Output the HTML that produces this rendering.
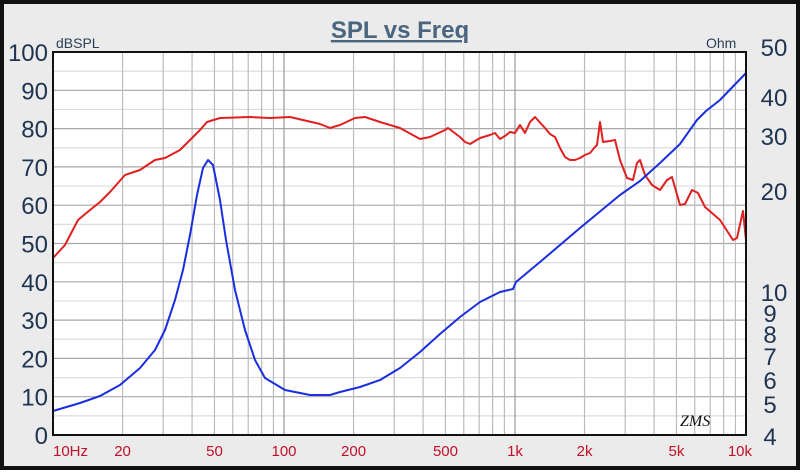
<!DOCTYPE html><html><head><style>body{margin:0;width:800px;height:470px;overflow:hidden}</style></head><body>
<svg width="800" height="470" xmlns="http://www.w3.org/2000/svg" font-family="Liberation Sans, sans-serif">
<rect x="0" y="0" width="800" height="470" fill="#111"/>
<rect x="4" y="4" width="792" height="462" fill="#ebebeb"/>
<text x="400" y="38" text-anchor="middle" font-size="24" font-weight="bold" fill="#4a6580" text-decoration="underline">SPL vs Freq</text>
<rect x="53" y="52" width="693" height="383" fill="#fff"/>
<g stroke-width="1.2" id="g"></g>
<g id="lab"></g>
<polyline fill="none" stroke="#e02020" stroke-width="2" stroke-linejoin="round" points="53,258 65,245 78,220 90,210 100,202 110,192 125,175 140,170 155,160 165,158 180,150 190,140 200,130 207,122 220,118 250,117 270,118 290,117 320,124 330,128 340,125 355,118 365,117 380,122 400,128 420,139 430,137 445,130 448,128 460,137 465,142 470,144 480,138 490,135 495,133 500,139 505,136 510,132 515,133 520,125 525,133 530,122 535,117 545,128 550,134 555,137 560,148 565,157 570,160 575,160 580,158 585,155 590,153 595,147 597,145 600,122 603,142 610,141 615,140 620,160 627,178 633,180 637,163 640,160 645,175 652,185 660,190 667,180 672,177 680,205 685,204 692,190 698,193 705,207 720,220 733,240 737,238 743,211 746,240"/>
<polyline fill="none" stroke="#1a2ee0" stroke-width="2" stroke-linejoin="round" points="53,411 80,403 100,396 120,385 140,368 155,350 165,330 175,300 183,270 190,235 197,195 203,168 208,160 213,165 220,200 226,240 235,290 245,330 255,360 265,378 285,390 310,395 330,395 340,392 360,387 380,380 400,368 420,352 440,334 460,317 480,302 500,292 513,289 516,282 540,262 580,228 620,195 640,181 660,163 680,144 697,120 706,111 720,100 746,73"/>
<rect x="53" y="52" width="693" height="383" fill="none" stroke="#111" stroke-width="2"/>
<text x="680" y="426" font-size="16" font-style="italic" font-family="Liberation Serif, serif" fill="#111">ZMS</text>
<text x="56" y="48" font-size="14" fill="#2a3f5a">dBSPL</text>
<text x="706" y="48" font-size="14" fill="#2a3f5a">Ohm</text>
</svg>
<script>
const g=document.getElementById('g'),lab=document.getElementById('lab'),NS='http://www.w3.org/2000/svg';
function ln(x1,y1,x2,y2,c){const l=document.createElementNS(NS,'line');l.setAttribute('x1',x1);l.setAttribute('y1',y1);l.setAttribute('x2',x2);l.setAttribute('y2',y2);l.setAttribute('stroke',c);g.appendChild(l);}
function tx(x,y,s,fs,fill,anc){const t=document.createElementNS(NS,'text');t.setAttribute('x',x);t.setAttribute('y',y);t.setAttribute('font-size',fs);t.setAttribute('fill',fill);t.setAttribute('text-anchor',anc);t.textContent=s;lab.appendChild(t);}
const X=f=>53+231*Math.log10(f/10);
for(let v=5;v<100;v+=5){const y=435-v*3.83;ln(53,y,746,y,v%10?'#dcdcdc':'#a8a8a8');}
for(let d=10;d<10000;d*=10)for(let m=1;m<10;m++){const x=X(d*m);if(m>1)ln(x,52,x,435,'#bcbcbc');else if(d>10)ln(x,52,x,435,'#999');}
for(let v=0;v<=100;v+=10){tx(48,435-v*3.83+9,String(v),24,'#1f3450','end');}
[[10,'10Hz'],[20,'20'],[50,'50'],[100,'100'],[200,'200'],[500,'500'],[1000,'1k'],[2000,'2k'],[5000,'5k'],[10000,'10k']].forEach(([f,s])=>{let x=X(f);let a='middle';if(f==10){x=53;a='start'}if(f==10000){x=752;a='end'}tx(x,456,s,15,'#c0102a',a);});
[[50,47],[40,97],[30,136],[20,191],[10,292],[9,313],[8,334],[7,356],[6,380],[5,404],[4,436]].forEach(([v,y])=>tx(v>=10?774:770,y+9,String(v),24,'#1f3450','middle'));
</script>
</body></html>
